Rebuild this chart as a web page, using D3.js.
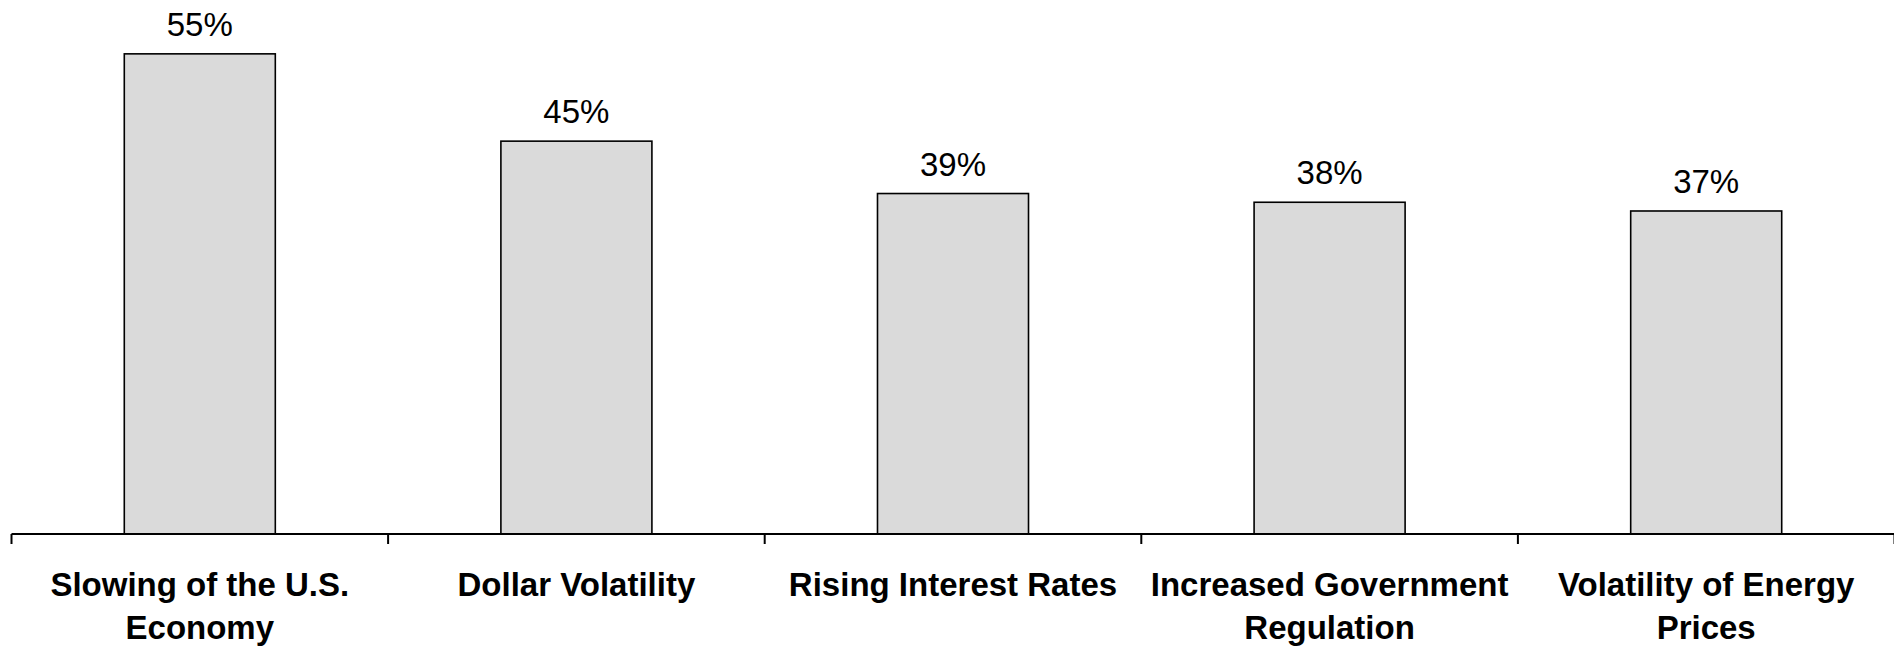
<!DOCTYPE html>
<html>
<head>
<meta charset="utf-8">
<script src="https://cdn.jsdelivr.net/npm/d3@7"></script>
<style>
  html, body { margin: 0; padding: 0; background: #fff; }
  svg { display: block; }
  text { font-family: "Liberation Sans", Arial, sans-serif; fill: #000; }
</style>
</head>
<body>
<svg id="chart" width="1894" height="647"></svg>
<script>
const categories = [
  "Slowing of the U.S. Economy",
  "Dollar Volatility",
  "Rising Interest Rates",
  "Increased Government Regulation",
  "Volatility of Energy Prices"
];
const values = [0.55, 0.45, 0.39, 0.38, 0.37];
const yDomain = [0, 0.6];

const svg = d3.select("#chart");
const x0 = 11.5, x1 = 1894.5, baseY = 534, topY = 10.2;

const x = d3.scaleBand().domain(categories).range([x0, x1]).padding(0);
const y = d3.scaleLinear().domain(yDomain).range([baseY, topY]);
const barW = x.bandwidth() * 0.401;
const fmt = d3.format(".0%");

// bars
svg.append("g").selectAll("rect")
  .data(categories)
  .join("rect")
  .attr("x", (d) => x(d) + x.bandwidth() / 2 - barW / 2)
  .attr("y", (d, i) => y(values[i]))
  .attr("width", barW)
  .attr("height", (d, i) => y(0) - y(values[i]))
  .attr("fill", "#dadada")
  .attr("stroke", "#000")
  .attr("stroke-width", 1.6);

// value labels
svg.append("g").selectAll("text")
  .data(categories)
  .join("text")
  .attr("x", (d) => x(d) + x.bandwidth() / 2)
  .attr("y", (d, i) => y(values[i]) - 18)
  .attr("text-anchor", "middle")
  .style("font-size", "33px")
  .text((d, i) => fmt(values[i]));

// x axis: domain line and ticks at band boundaries
const axis = svg.append("g");
axis.append("line")
  .attr("x1", x0).attr("x2", x1)
  .attr("y1", baseY).attr("y2", baseY)
  .attr("stroke", "#000").attr("stroke-width", 2);
const bounds = d3.range(categories.length + 1).map(i => x0 + i * x.step());
axis.selectAll("line.tick")
  .data(bounds)
  .join("line")
  .attr("class", "tick")
  .attr("x1", d => d).attr("x2", d => d)
  .attr("y1", baseY).attr("y2", baseY + 10)
  .attr("stroke", "#000").attr("stroke-width", 2);

// category labels with wrapping
const maxW = 372;
const labels = svg.append("g").selectAll("text")
  .data(categories)
  .join("text")
  .attr("x", d => x(d) + x.bandwidth() / 2)
  .attr("y", baseY + 62)
  .attr("text-anchor", "middle")
  .style("font-size", "33px")
  .style("font-weight", "bold");

labels.each(function(d) {
  const t = d3.select(this);
  const words = d.split(" ");
  let lines = [], line = [];
  const probe = t.append("tspan");
  words.forEach(w => {
    const test = line.concat(w).join(" ");
    probe.text(test);
    if (probe.node().getComputedTextLength() > maxW && line.length) {
      lines.push(line.join(" "));
      line = [w];
    } else {
      line.push(w);
    }
  });
  lines.push(line.join(" "));
  probe.remove();
  const cx = t.attr("x");
  lines.forEach((l, i) => {
    t.append("tspan").attr("x", cx).attr("dy", i === 0 ? 0 : 43).text(l);
  });
});
</script>
</body>
</html>
